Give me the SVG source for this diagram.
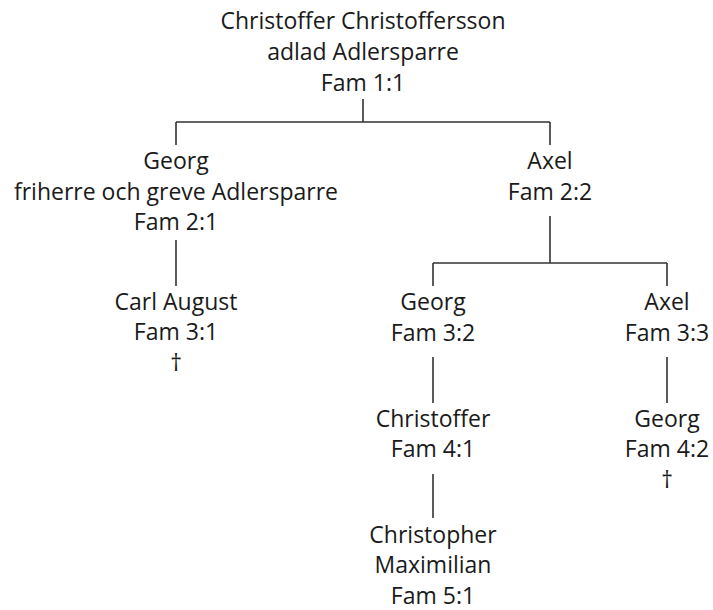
<svg xmlns="http://www.w3.org/2000/svg" width="713" height="610" viewBox="0 0 713 610">
<style>
text{font-family:"Open Sans","Noto Sans",sans-serif;font-size:23px;fill:#1a1a1a;text-anchor:middle}
.c{stroke:#333;stroke-width:1.6;fill:none}
</style>
<rect width="713" height="610" fill="#fff"/>
<g id="connectors">
<path class="c" d="M363 99V122M176 122H550M176 122V145M550 122V145"/>
<path class="c" d="M176 240V286"/>
<path class="c" d="M550 216V263M433 263H667M433 263V286M667 263V286"/>
<path class="c" d="M433 357V403M667 357V403"/>
<path class="c" d="M433 474V518"/>
</g>
<g id="n11"><text x="363" y="29">Christoffer Christoffersson</text><text x="363" y="60">adlad Adlersparre</text><text x="363" y="91">Fam 1:1</text></g>
<g id="n21"><text x="176" y="169">Georg</text><text x="176" y="200">friherre och greve Adlersparre</text><text x="176" y="230">Fam 2:1</text></g>
<g id="n22"><text x="550" y="169">Axel</text><text x="550" y="200">Fam 2:2</text></g>
<g id="n31"><text x="176" y="310">Carl August</text><text x="176" y="340">Fam 3:1</text><text x="176" y="371">†</text></g>
<g id="n32"><text x="433" y="310">Georg</text><text x="433" y="341">Fam 3:2</text></g>
<g id="n33"><text x="667" y="310">Axel</text><text x="667" y="341">Fam 3:3</text></g>
<g id="n41"><text x="433" y="427">Christoffer</text><text x="433" y="457">Fam 4:1</text></g>
<g id="n42"><text x="667" y="427">Georg</text><text x="667" y="457">Fam 4:2</text><text x="667" y="488">†</text></g>
<g id="n51"><text x="433" y="543">Christopher</text><text x="433" y="573">Maximilian</text><text x="433" y="604">Fam 5:1</text></g>
</svg>
